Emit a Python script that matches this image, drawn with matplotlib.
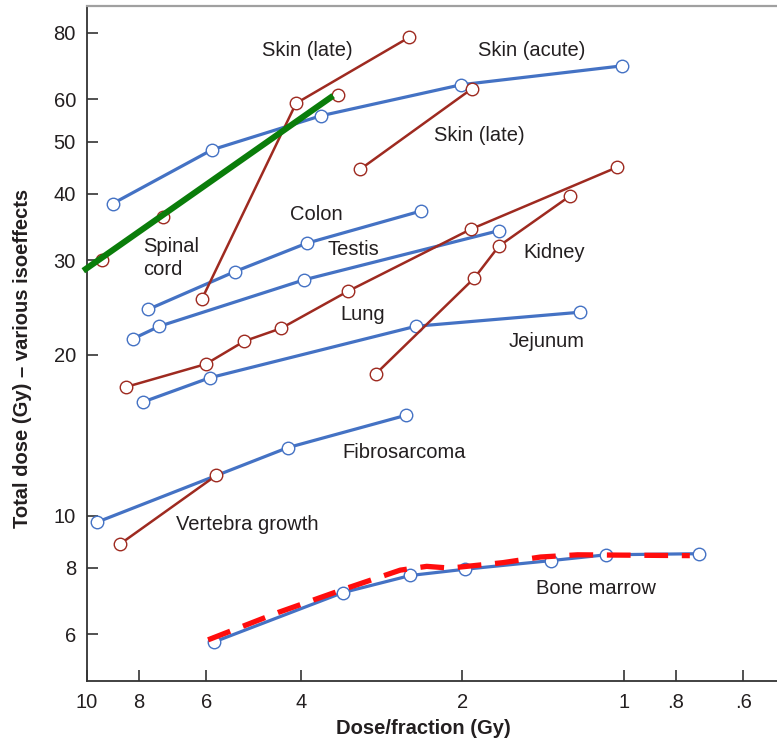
import numpy as np
import matplotlib
matplotlib.use('Agg')
import matplotlib.pyplot as plt

plt.rcParams['font.family'] = ['Liberation Sans', 'DejaVu Sans']

blue = '#4472c4'
maroon = '#9e2a20'
green = '#0a7d0a'
red = '#ff0d0d'
txt = '#231f20'

# dose per fraction (Gy) and total isoeffective dose (Gy)
skin_acute_d = [8.96, 5.85, 3.67, 2.01, 1.01]
skin_acute_t = [38.3, 48.3, 55.9, 63.9, 69.3]

skin_late1_d = [6.11, 4.08, 2.51]
skin_late1_t = [25.4, 59.0, 78.4]

skin_late2_d = [3.10, 1.92]
skin_late2_t = [44.4, 62.8]

cord_d = [9.36, 7.23, 3.41]
cord_t = [30.1, 36.2, 61.2]
cord_fit_d = [10.16, 3.48]
cord_fit_t = [28.7, 60.95]

colon_d = [7.69, 5.30, 3.90, 2.39]
colon_t = [24.3, 28.6, 32.3, 37.1]

testis_d = [8.22, 7.33, 3.94, 1.71]
testis_t = [21.4, 22.6, 27.6, 34.1]

lung_d = [8.46, 6.01, 5.09, 4.35, 3.26, 1.93, 1.03]
lung_t = [17.4, 19.2, 21.2, 22.4, 26.3, 34.3, 44.8]

kidney_d = [2.90, 1.90, 1.71, 1.26]
kidney_t = [18.4, 27.8, 31.9, 39.6]

jejunum_d = [7.88, 5.91, 2.44, 1.21]
jejunum_t = [16.3, 18.1, 22.6, 24.0]

fibro_d = [9.59, 4.23, 2.55]
fibro_t = [9.72, 13.4, 15.4]

vert_d = [8.68, 5.74]
vert_t = [8.85, 11.9]

marrow_d = [5.79, 3.34, 2.50, 1.98, 1.37, 1.08, 0.725]
marrow_t = [5.81, 7.18, 7.73, 7.94, 8.24, 8.45, 8.49]

marrow_fit_d = [5.95, 4.41, 3.28, 2.61, 2.33, 2.11, 1.68, 1.43, 1.22, 0.754]
marrow_fit_t = [5.86, 6.59, 7.32, 7.91, 8.04, 7.98, 8.17, 8.37, 8.45, 8.42]

xticks = [10, 8, 6, 4, 2, 1, 0.8, 0.6]
xticklabels = ['10', '8', '6', '4', '2', '1', '.8', '.6']
yticks = [6, 8, 10, 20, 30, 40, 50, 60, 80]

fig = plt.figure(figsize=(7.77, 7.43), dpi=100)
ax = fig.add_axes([87 / 777, (743 - 680.7) / 743, 690 / 777, 674.7 / 743])
ax.set_xscale('log')
ax.set_yscale('log')
ax.set_xlim(10, 0.5188)
ax.set_ylim(4.915, 89.68)

mk = dict(marker='o', markersize=9, markerfacecolor='white', markeredgewidth=1.0)


def series(d, t, c, lw):
    ax.plot(d, t, color=c, lw=lw, markeredgecolor=c, zorder=3, **mk)


series(skin_acute_d, skin_acute_t, blue, 2.3)
series(colon_d, colon_t, blue, 2.3)
series(testis_d, testis_t, blue, 2.3)
series(jejunum_d, jejunum_t, blue, 2.3)
series(fibro_d, fibro_t, blue, 2.3)
series(marrow_d, marrow_t, blue, 2.3)
series(skin_late1_d, skin_late1_t, maroon, 1.8)
series(skin_late2_d, skin_late2_t, maroon, 1.8)
series(lung_d, lung_t, maroon, 1.8)
series(kidney_d, kidney_t, maroon, 1.8)
series(vert_d, vert_t, maroon, 1.8)
ax.plot(cord_d, cord_t, ls='none', markeredgecolor=maroon, zorder=3, **mk)

ax.plot(cord_fit_d, cord_fit_t, color=green, lw=4.4, solid_capstyle='butt',
        zorder=5, clip_on=False)
ax.plot(marrow_fit_d, marrow_fit_t, color=red, lw=3.8, dashes=(4.5, 2.6),
        dash_capstyle='butt', zorder=5)

labels = [
    ('Skin (late)', 4.72, 73.9),
    ('Skin (acute)', 1.87, 73.9),
    ('Skin (late)', 2.26, 51.3),
    ('Colon', 4.19, 36.6),
    ('Spinal\ncord', 7.87, 30.3),
    ('Testis', 3.56, 31.4),
    ('Kidney', 1.54, 31.1),
    ('Lung', 3.37, 23.8),
    ('Jejunum', 1.64, 21.2),
    ('Fibrosarcoma', 3.34, 13.1),
    ('Vertebra growth', 6.83, 9.61),
    ('Bone marrow', 1.46, 7.32),
]
for s, x, y in labels:
    ax.text(x, y, s, fontsize=14.5, color=txt, ha='left', va='center',
            linespacing=1.25, zorder=6)

ax.minorticks_off()
ax.set_xticks(xticks)
ax.set_xticklabels(xticklabels)
ax.set_yticks(yticks)
ax.set_yticklabels([str(v) for v in yticks])
ax.tick_params(axis='both', direction='in', length=8, width=1.2, colors='#333333',
               labelsize=14.5, labelcolor=txt)
ax.tick_params(axis='x', pad=9)
ax.tick_params(axis='y', pad=8)

for side in ['left', 'bottom']:
    ax.spines[side].set_color('#333333')
    ax.spines[side].set_linewidth(1.3)
ax.spines['top'].set_color('#a0a0a0')
ax.spines['top'].set_linewidth(1.6)
ax.spines['right'].set_visible(False)

ax.set_xlabel('Dose/fraction (Gy)', fontsize=14.5, fontweight='bold', color=txt)
ax.set_ylabel('Total dose (Gy) \u2013 various isoeffects', fontsize=14.5,
              fontweight='bold', color=txt)
ax.xaxis.set_label_coords(0.487, -0.057)
ax.yaxis.set_label_coords(-0.08, 0.477)

fig.savefig('out.png', dpi=100)
